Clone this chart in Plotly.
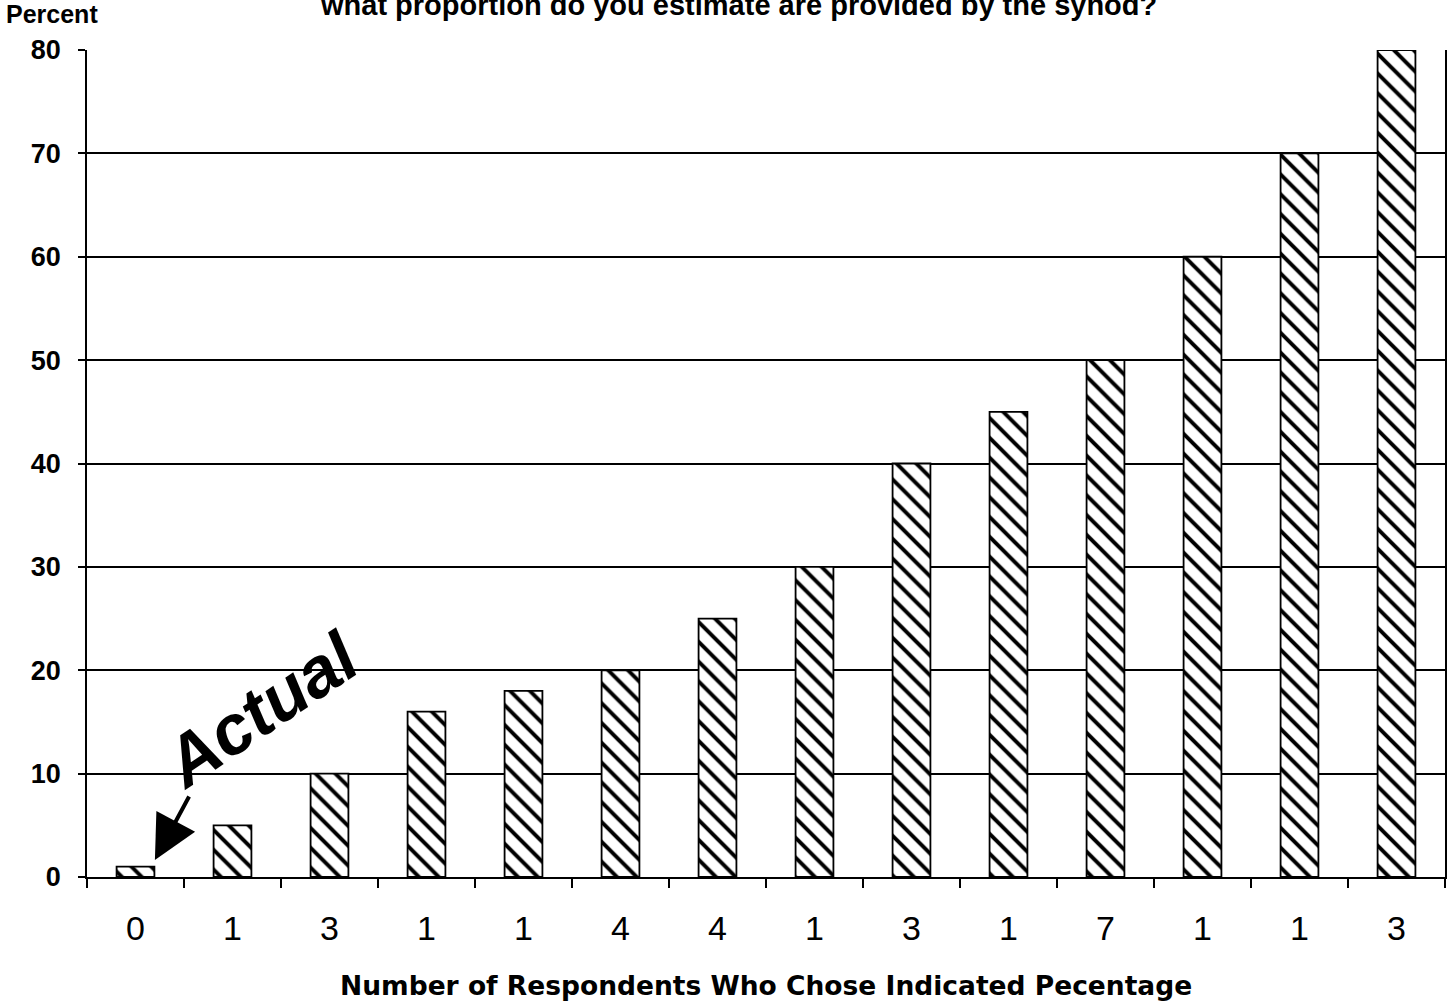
import plotly.graph_objects as go

respondents = ["0", "1", "3", "1", "1", "4", "4", "1", "3", "1", "7", "1", "1", "3"]
percent = [1, 5, 10, 16, 18, 20, 25, 30, 40, 45, 50, 60, 70, 80]
positions = list(range(len(percent)))
y_ticks = [0, 10, 20, 30, 40, 50, 60, 70, 80]

title_text = "what proportion do you estimate are provided by the synod?"
x_title = "Number of Respondents Who Chose Indicated Pecentage"
y_title = "Percent"

fig = go.Figure()
fig.add_trace(go.Bar(
    x=positions,
    y=percent,
    width=0.39,
    marker=dict(
        color="white",
        line=dict(color="black", width=1.8),
        pattern=dict(shape="\\", fgcolor="#000000", bgcolor="white", fgopacity=1,
                     size=14, solidity=0.28),
    ),
    hoverinfo="skip",
))

fig.update_layout(
    width=1449,
    height=1003,
    margin=dict(l=87, r=2, t=50, b=126),
    plot_bgcolor="white",
    paper_bgcolor="white",
    showlegend=False,
    font=dict(family="Liberation Sans, Arial", color="black"),
)

fig.update_xaxes(
    range=[-0.5, 13.5],
    tickmode="array",
    tickvals=positions,
    ticktext=respondents,
    ticks="",
    ticklabelstandoff=20,
    tickfont=dict(size=34, family="Liberation Sans, Arial", color="black"),
    showgrid=False,
    showline=True,
    linecolor="black",
    linewidth=1.8,
    zeroline=False,
    minor=dict(tickmode="linear", tick0=-0.5, dtick=1, ticks="outside", ticklen=9,
               tickwidth=1.8, tickcolor="black", showgrid=False),
)

fig.update_yaxes(
    range=[0, 80],
    tickmode="array",
    tickvals=y_ticks,
    ticktext=["<b>%d</b>" % v for v in y_ticks],
    ticks="outside",
    ticklen=7,
    tickwidth=1.8,
    tickcolor="black",
    ticklabelstandoff=12,
    tickfont=dict(size=27, family="Liberation Sans, Arial", color="black"),
    showgrid=True,
    gridcolor="black",
    gridwidth=1.8,
    showline=True,
    linecolor="black",
    linewidth=1.8,
    mirror=True,
    zeroline=False,
)

fig.add_annotation(
    text="<b>" + title_text + "</b>",
    xref="paper", yref="paper", x=0.48, y=1.055,
    xanchor="center", yanchor="middle", showarrow=False,
    font=dict(size=29, family="Liberation Sans, Arial", color="black"),
)
fig.add_annotation(
    text="<b>" + y_title + "</b>",
    xref="paper", yref="paper", x=-0.0257, y=1.0435,
    xanchor="center", yanchor="middle", showarrow=False,
    font=dict(size=25, family="Liberation Sans, Arial", color="black"),
)
fig.add_annotation(
    text="<b>" + x_title + "</b>",
    xref="paper", yref="paper", x=0.5, y=-0.1306,
    xanchor="center", yanchor="middle", showarrow=False,
    font=dict(size=26.5, family="DejaVu Sans, Verdana", color="black"),
)
fig.add_annotation(
    text="<b><i>Actual</i></b>",
    x=1.29, y=16.2, xref="x", yref="y",
    showarrow=False, textangle=-34,
    font=dict(size=70, family="Liberation Sans Narrow, Liberation Sans, Arial", color="black"),
)
fig.add_annotation(
    text="",
    x=0.2, y=1.64, xref="x", yref="y",
    ax=35, ay=-65,
    showarrow=True, arrowhead=2, arrowsize=2.2, arrowwidth=4, arrowcolor="black",
)

fig.write_html("out.html", config={"displayModeBar": False},
               post_script="document.body.style.margin='0';")
